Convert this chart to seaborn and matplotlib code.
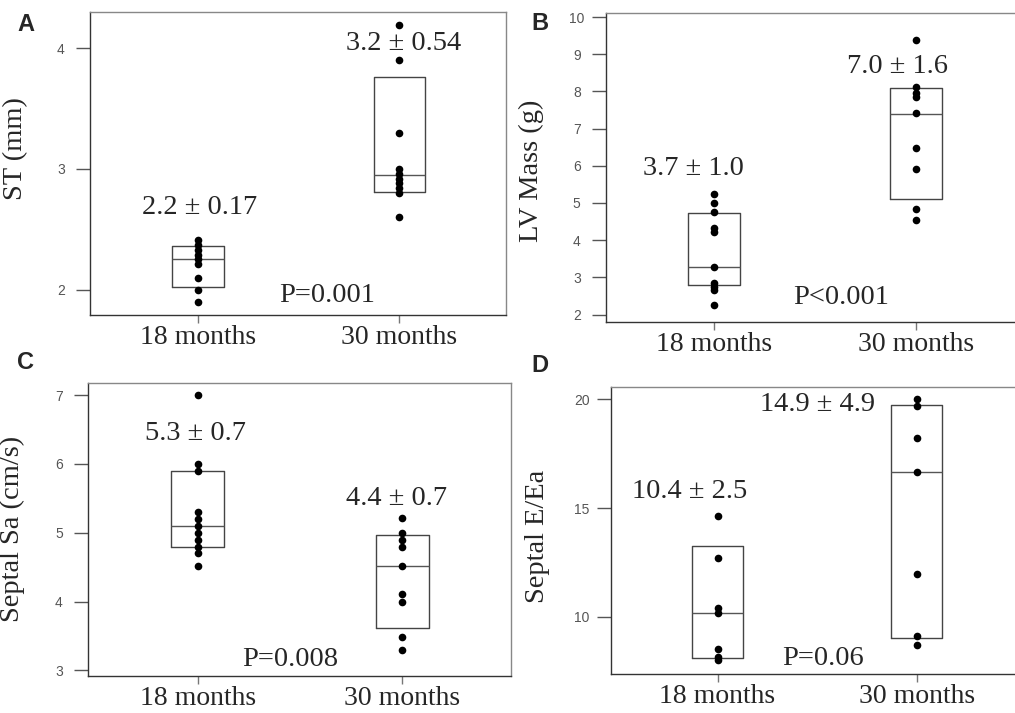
import matplotlib
import matplotlib.pyplot as plt
import pandas as pd
import seaborn as sns

matplotlib.use("Agg")

# Values
groups = ["18 months", "30 months"]

st_18 = [2.41, 2.37, 2.33, 2.29, 2.25, 2.21, 2.10, 2.00, 1.90]
st_30 = [4.19, 3.90, 3.30, 3.00, 2.96, 2.92, 2.88, 2.84, 2.80, 2.60]
st_q1, st_med, st_q3 = [2.02, 2.81], [2.25, 2.95], [2.36, 3.76]

lv_18 = [5.23, 5.01, 4.75, 4.33, 4.21, 3.28, 2.85, 2.75, 2.66, 2.27]
lv_30 = [9.39, 8.11, 7.97, 7.84, 7.41, 6.48, 5.91, 4.85, 4.54]
lv_q1, lv_med, lv_q3 = [2.79, 5.10], [3.27, 7.40], [4.74, 8.09]

sa_18 = [7.00, 6.00, 5.90, 5.30, 5.20, 5.10, 5.00, 4.90, 4.80, 4.70, 4.51]
sa_30 = [5.21, 5.00, 4.89, 4.80, 4.51, 4.11, 4.00, 3.49, 3.30]
sa_q1, sa_med, sa_q3 = [4.80, 3.62], [5.10, 4.51], [5.90, 4.97]

ee_18 = [14.63, 12.70, 10.41, 10.18, 8.52, 8.14, 7.98]
ee_30 = [20.00, 19.69, 18.24, 16.64, 11.98, 9.11, 8.70]
ee_q1, ee_med, ee_q3 = [8.09, 9.01], [10.15, 16.64], [13.24, 19.73]

st_labels = ["2.2 ± 0.17", "3.2 ± 0.54", "P=0.001"]
lv_labels = ["3.7 ± 1.0", "7.0 ± 1.6", "P<0.001"]
sa_labels = ["5.3 ± 0.7", "4.4 ± 0.7", "P=0.008"]
ee_labels = ["10.4 ± 2.5", "14.9 ± 4.9", "P=0.06"]

sns.set_style("ticks")
plt.rcParams["font.family"] = ["Liberation Serif", "DejaVu Serif"]

fig = plt.figure(figsize=(10.15, 7.13), dpi=100)

panels = [
    # letter, ylabel, data, box stats, labels, yticks, ylim, axes rect, text pos, letter pos, label y
    ("A", "ST (mm)", (st_18, st_30), (st_q1, st_med, st_q3), st_labels,
     [2, 3, 4], (1.79, 4.30), [0.0887, 0.5582, 0.4099, 0.4250],
     [(0.01, 2.68), (1.02, 4.04), (0.64, 1.95)], (0.026, 0.966), 0.55),
    ("B", "LV Mass (g)", (lv_18, lv_30), (lv_q1, lv_med, lv_q3), lv_labels,
     list(range(2, 11)), (1.80, 10.11), [0.5970, 0.5484, 0.4110, 0.4334],
     [(-0.10, 5.94), (0.91, 8.67), (0.63, 2.47)], (0.532, 0.967), 0.49),
    ("C", "Septal Sa (cm/s)", (sa_18, sa_30), (sa_q1, sa_med, sa_q3), sa_labels,
     [3, 4, 5, 6, 7], (2.92, 7.18), [0.0867, 0.0521, 0.4167, 0.4110],
     [(-0.01, 6.44), (0.97, 5.50), (0.45, 3.16)], (0.025, 0.491), 0.50),
    ("D", "Septal E/Ea", (ee_18, ee_30), (ee_q1, ee_med, ee_q3), ee_labels,
     [10, 15, 20], (7.36, 20.58), [0.6020, 0.0549, 0.4050, 0.4025],
     [(-0.14, 15.74), (0.50, 19.77), (0.53, 8.09)], (0.532, 0.488), 0.48),
]

for letter, ylabel, data, stats, labels, yticks, ylim, rect, tpos, lpos, ly in panels:
    ax = fig.add_axes(rect)
    df = pd.DataFrame({
        "group": [groups[0]] * len(data[0]) + [groups[1]] * len(data[1]),
        "value": list(data[0]) + list(data[1]),
    })

    # boxes: quartiles and median only, no whiskers
    q1, med, q3 = stats
    bstats = [
        {"q1": q1[i], "med": med[i], "q3": q3[i], "whislo": q1[i], "whishi": q3[i], "fliers": []}
        for i in range(2)
    ]
    ax.bxp(bstats, positions=[0, 1], widths=0.255, showcaps=False, showfliers=False,
           boxprops=dict(color="#444444", linewidth=1.0),
           medianprops=dict(color="#555555", linewidth=1.0),
           whiskerprops=dict(linewidth=0))

    sns.stripplot(data=df, x="group", y="value", order=groups, jitter=False,
                  color="black", size=5.5, ax=ax, zorder=3)

    ax.set_xlim(-0.535, 1.53)
    ax.set_ylim(*ylim)
    ax.set_yticks(yticks)
    ax.set_xticks([0, 1])
    ax.set_xticklabels(groups, fontsize=20)
    ax.set_xlabel("")
    ax.set_ylabel(ylabel, fontsize=20.5)
    ax.yaxis.set_label_coords(-0.148, ly)

    ax.tick_params(axis="y", which="major", direction="out", length=10, width=1.0,
                   color="#555555", pad=11, left=True, right=False)
    ax.tick_params(axis="x", which="major", direction="out", length=6, width=1.0,
                   color="#777777", pad=1, bottom=True, top=False)
    for t in ax.get_yticklabels():
        t.set_family(["Liberation Sans", "DejaVu Sans"])
        t.set_fontsize(10)
        t.set_color("#555555")
        t.set_horizontalalignment("center")

    for side in ["left", "bottom"]:
        ax.spines[side].set_visible(True)
        ax.spines[side].set_color("#333333")
        ax.spines[side].set_linewidth(1.0)
    for side in ["top", "right"]:
        ax.spines[side].set_visible(True)
        ax.spines[side].set_color("#888888")
        ax.spines[side].set_linewidth(1.0)

    for txt, (x, y) in zip(labels, tpos):
        ax.text(x, y, txt, fontsize=20.5, ha="center", va="center")

    fig.text(lpos[0], lpos[1], letter, fontsize=17, fontweight="bold",
             family=["Liberation Sans", "DejaVu Sans"], ha="center", va="center")

fig.savefig("out.png", dpi=100)
